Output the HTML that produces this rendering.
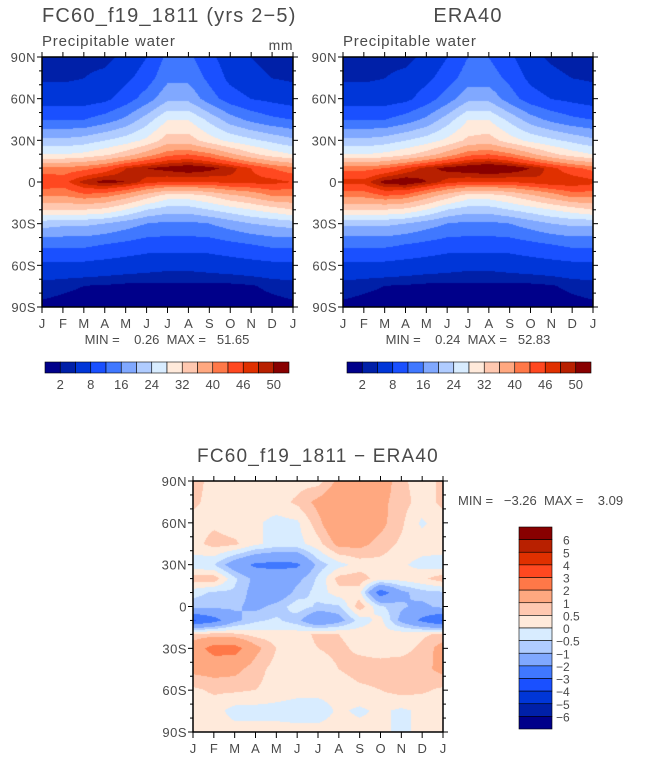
<!DOCTYPE html>
<html><head><meta charset="utf-8"><style>
body{margin:0;background:#fff;width:646px;height:761px;overflow:hidden;position:relative;font-family:"Liberation Sans",sans-serif;}
canvas{position:absolute;}
svg{position:absolute;left:0;top:0;}
text{white-space:pre;}
</style></head><body>
<canvas id="c1" width="251" height="250" style="left:42px;top:57px"></canvas>
<canvas id="c2" width="250" height="250" style="left:343px;top:57px"></canvas>
<canvas id="c3" width="250" height="251" style="left:193px;top:481px"></canvas>
<svg id="s" width="646" height="761" font-family="Liberation Sans, sans-serif" fill="#4a4a4a"></svg>
<script>
const colors=["#00008a","#0020a8","#0036d8","#1a50ff","#4078ff","#80a8ff","#b0ccff","#d8ecff","#ffeadb","#ffc8b0","#ffa880","#ff7848","#ff4820","#e03000","#b82000","#880000"];
const levelsTop=[2,4,8,12,16,20,24,28,32,36,40,43,46,48,50];
const levelsDiff=[-6,-5,-4,-3,-2,-1,-0.5,0,0.5,1,2,3,4,5,6];
const topLabels=["2","8","16","24","32","40","46","50"];
const diffLabels=["6","5","4","3","2","1","0.5","0","\u22120.5","\u22121","\u22122","\u22123","\u22124","\u22125","\u22126"];
const months=["J","F","M","A","M","J","J","A","S","O","N","D","J"];
const lats=[90,75,60,45,30,20,10,0,-10,-20,-30,-45,-60,-75,-90];
const latTicks=["90N","60N","30N","0","30S","60S","90S"];
const modelPW=[
[3,3,3,3,5,8,13,13,9,6,4,3,3],
[3.5,3.5,4,5,7,10,15,15,11,7,5,4,3.5],
[6,6,6,7,10,14,19,19,14,10,8,7,6],
[12,12,12,14,17,22,28,28,23,18,15,13,12],
[21,21,22,24,26,29,34,34,30,27,25,23,21],
[28,28,29,31,34,38,42,43,41,37,33,30,28],
[41,41,42,44,48,50,51,52,51,49,46,43,41],
[46,45,49,51,50,47,46,46,46,47,47,47,46],
[40,40,42,41,38,34,30,30,32,35,37,40,40],
[32,32,32,31,28,24,22,22,24,26,28,30,32],
[22,21,21,20,18,16,15,15,16,18,20,21,22],
[13,13,13,12,11,10,10,10,10,11,12,13,13],
[7,7,7,6.5,6,5.5,5,5,5.5,6,6.5,7,7],
[3,2.5,2,1.8,1.5,1.5,1.5,1.5,1.5,1.5,1.8,2.5,3],
[1.5,1.2,1,1,1,1,1,1,1,1,1,1.2,1.5]];
const eraPW=[
[2.5,2.5,3,3,5,8,12,12,9,5,3.5,2.5,2.5],
[3.5,3.5,4,5,7,10,14,14,11,7,5,4,3.5],
[6,6,6,7,10,14,19,19,14,10,8,7,6],
[12,12,12,14,17,22,28,28,23,18,15,13,12],
[21,21,22,24,26,29,33,34,30,27,25,23,21],
[28,28,29,31,34,38,42,43,41,37,33,30,28],
[42,42,43,46,49,51,52,53,52,50,47,44,42],
[47,47,51,52,50,47,46,46,46,47,48,48,47],
[41,41,43,42,38,34,30,30,32,35,38,41,41],
[32,32,32,31,28,24,22,22,24,26,28,30,32],
[21,21,21,20,18,16,15,15,16,18,20,21,21],
[13,13,13,12,11,10,10,10,10,11,12,13,13],
[7,7,7,6.5,6,5.5,5,5,5.5,6,6.5,7,7],
[3,2.5,2,1.8,1.5,1.5,1.5,1.5,1.5,1.5,1.8,2.5,3],
[1.5,1.2,1,1,1,1,1,1,1,1,1,1.2,1.5]];
const diffPW=[
[0.7,0.3,0.3,0.3,0.3,0.3,0.3,1.2,1.8,1.5,0.6,0.3,0.6],
[0.6,0.3,0.2,0.3,0.3,0.6,1.2,1.6,1.5,1.2,0.7,0.3,0.6],
[0.3,0.4,0.2,0.1,-0.2,-0.1,0.8,1.8,1.5,1.2,0.6,-0.1,0.3],
[0.3,0.7,0.6,0.1,-0.2,-0.2,0.3,1.2,1.2,0.8,0.4,0.3,0.3],
[-0.3,-0.5,-1.5,-2.2,-2.3,-2.2,-0.8,-0.2,0.2,0.3,0.1,-0.2,-0.3],
[0.8,0.8,-0.4,-1.2,-1.4,-1.2,-0.4,0.7,0.8,0.2,0.2,0.4,0.8],
[-0.3,-0.6,-0.6,-1.3,-1.6,-0.8,-0.3,0.3,0.2,-2.6,-1.2,-0.7,-0.6],
[-0.8,-0.8,-0.9,-1.2,-0.8,-0.2,-0.6,-0.6,0.8,-0.4,-0.9,-1.2,-0.8],
[-3.1,-2.4,-1.2,-0.6,-0.4,-0.8,-1.9,-1.3,-0.3,0.2,-1.2,-2.2,-3.1],
[0.6,0.7,0.6,0.3,0.2,0.3,0.6,0.5,0.3,0.2,0.3,0.4,0.6],
[1.5,2.4,2.4,1.2,0.5,0.3,0.5,0.6,0.4,0.3,0.3,0.6,1.3],
[1.2,1.3,1.2,0.7,0.3,0.3,0.3,0.5,0.7,0.7,0.8,0.8,1.2],
[0.4,0.6,0.6,0.5,0.3,0.2,0.2,0.2,0.4,0.5,0.7,0.6,0.4],
[0.2,0.2,-0.2,-0.2,-0.2,-0.3,-0.3,0.1,-0.1,0.1,-0.1,0.1,0.2],
[0.2,0.2,0.2,0.2,0.2,0.2,0.2,0.2,0.2,0.1,-0.1,0.1,0.2]];

function sample(grid,m,lat){
  let j=Math.min(11,Math.floor(m)),fx=m-j;
  let i=0;while(i<lats.length-2&&lat<lats[i+1])i++;
  let fy=(lats[i]-lat)/(lats[i]-lats[i+1]);
  const a=grid[i][j],b=grid[i][j+1],c=grid[i+1][j],d=grid[i+1][j+1];
  return a*(1-fx)*(1-fy)+b*fx*(1-fy)+c*(1-fx)*fy+d*fx*fy;
}
function idx(v,lv){let k=0;while(k<lv.length&&v>=lv[k])k++;return k;}
function drawField(id,grid,lv){
  const cv=document.getElementById(id),ctx=cv.getContext('2d');
  const W=cv.width,H=cv.height;
  for(let y=0;y<H;y++)for(let x=0;x<W;x++){
    const m=x/(W-1)*12,lat=90-y/(H-1)*180;
    ctx.fillStyle=colors[idx(sample(grid,m,lat),lv)];
    ctx.fillRect(x,y,1,1);
  }
}
drawField('c1',modelPW,levelsTop);
drawField('c2',eraPW,levelsTop);
drawField('c3',diffPW,levelsDiff);

const S=document.getElementById('s');const NS="http://www.w3.org/2000/svg";
function el(t,a,txt){const e=document.createElementNS(NS,t);for(const k in a)e.setAttribute(k,a[k]);if(txt!==undefined)e.textContent=txt;S.appendChild(e);return e;}
function axes(x0,y0,w,h,leftLabels,name){
  let r=el('rect',{x:x0,y:y0,width:w,height:h,fill:'none',stroke:'#000','stroke-width':1.5});
  
  for(let k=0;k<=18;k++){
    const y=y0+h*k/18,major=k%3==0,L=major?5:3;
    el('line',{x1:x0-L,y1:y,x2:x0,y2:y,stroke:'#000'});
    el('line',{x1:x0+w,y1:y,x2:x0+w+L,y2:y,stroke:'#000'});
    if(major&&leftLabels){const t=el('text',{x:x0-6,y:y+5,'font-size':13,'text-anchor':'end','letter-spacing':0.5},latTicks[k/3]);
      }
  }
  months.forEach((mo,k)=>{const x=x0+w*k/12;
    el('line',{x1:x,y1:y0-5,x2:x,y2:y0,stroke:'#000'});
    el('line',{x1:x,y1:y0+h,x2:x,y2:y0+h+6,stroke:'#000'});
    const t=el('text',{x:x,y:y0+h+21,'font-size':13,'text-anchor':'middle'},mo);
    });
}
axes(42,57,251,250,true,'model-panel');
axes(343,57,250,250,true,'era40-panel');
axes(193,481,250,251,true,'difference-panel');
function txt(x,y,s,size,anchor,name,ls){const t=el('text',{x:x,y:y,'font-size':size,'text-anchor':anchor||'start','letter-spacing':ls||0},s);
  return t;}
txt(42,22,"FC60_f19_1811 (yrs 2\u22125)",20,'start','model-title',1.2);
txt(468,22,"ERA40",20,'middle','era40-title',1.2);
txt(42,46,"Precipitable water",15,'start','model-subtitle',0.8);
txt(343,46,"Precipitable water",15,'start','era40-subtitle',0.8);
txt(293,50,"mm",14,'end','units-label',0.5);
txt(167,344,"MIN =    0.26  MAX =   51.65",13,'middle','model-minmax');
txt(468,344,"MIN =    0.24  MAX =   52.83",13,'middle','era40-minmax');
txt(318,462,"FC60_f19_1811 \u2212 ERA40",19,'middle','difference-title',1.2);
txt(458,505,"MIN =   \u22123.26  MAX =    3.09",13,'start','difference-minmax');
function hbar(x0,name){const w=244/16;
  colors.forEach((c,k)=>{const r=el('rect',{x:x0+k*w,y:362,width:w,height:11,fill:c,stroke:'#000','stroke-width':0.6});
    });
  topLabels.forEach((l,k)=>{txt(x0+w*(2*k+1),389,l,13,'middle',name+'-label');});
}
hbar(45,'model-colorbar');hbar(347,'era40-colorbar');
const vh=202/16;
colors.slice().reverse().forEach((c,k)=>{const r=el('rect',{x:519,y:527+k*vh,width:33,height:vh,fill:c,stroke:'#000','stroke-width':0.6});
  });
diffLabels.forEach((l,k)=>{txt(l.charAt(0)=='\u2212'?556:563,527+vh*(k+1)+5,l,12,'start','difference-colorbar-label');});
</script>
</body></html>
